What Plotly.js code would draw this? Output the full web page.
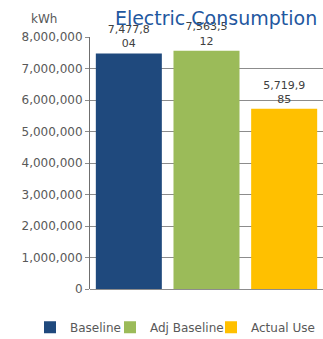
<!DOCTYPE html>
<html><head><meta charset="utf-8">
<script src="https://cdn.plot.ly/plotly-3.0.1.min.js"></script>
<style>body{margin:0;padding:0;background:#fff}#chart{width:323px;height:339px}</style>
</head><body><div id="chart"></div>
<script>
const categories = ["Baseline", "Adj Baseline", "Actual Use"];
const values = [7477804, 7563512, 5719985];
const colors = ["#1F497D", "#9BBB59", "#FFC000"];
const yTickVals = [0,1000000,2000000,3000000,4000000,5000000,6000000,7000000,8000000];
const yTickText = ["0","1,000,000","2,000,000","3,000,000","4,000,000","5,000,000","6,000,000","7,000,000","8,000,000"];

function wrapLabel(v){
  const s = v.toLocaleString("en-US");
  return s.length > 7 ? s.slice(0,7) + "<br>" + s.slice(7) : s;
}

const font = "'DejaVu Sans', sans-serif";
const legendIds = ["legend", "legend2", "legend3"];
const legendX = [30, 110, 211];
const traces = categories.map((c,i)=>({
  type: "bar",
  name: c,
  x: [c],
  y: [values[i]],
  marker: {color: colors[i]},
  text: [wrapLabel(values[i])],
  textposition: "outside",
  cliponaxis: false,
  textfont: {family: font, size: 11, color: "#404040"},
  hoverinfo: "none",
  legend: legendIds[i]
}));

const legendBase = {orientation: "h", xref: "container", yref: "container", xanchor: "left", yanchor: "middle", y: 0.035, font: {family: font, size: 12, color: "#595959"}, bgcolor: "rgba(0,0,0,0)"};

const layout = {
  width: 323, height: 339,
  margin: {l: 90, r: 0, t: 37, b: 50},
  paper_bgcolor: "#fff", plot_bgcolor: "#fff",
  barmode: "overlay",
  bargap: 0.15,
  font: {family: font, color: "#595959", size: 12},
  title: {text: "Electric Consumption", font: {family: font, size: 19, color: "#1F58A0"}, x: 0.541, xref: "paper", xanchor: "center", y: 0.947, yanchor: "middle"},
  xaxis: {type: "category", categoryorder: "array", categoryarray: categories, showticklabels: false, showline: false, showgrid: false, zeroline: false, range: [-0.5, 2.5], fixedrange: true},
  yaxis: {range: [0, 8000000], tickvals: yTickVals, ticktext: yTickText, showgrid: true, gridcolor: "#8C8C8C", gridwidth: 1, zeroline: true, zerolinecolor: "#8C8C8C", showline: true, linecolor: "#6F6F6F", linewidth: 1, ticks: "outside", ticklen: 4, tickcolor: "#8C8C8C", tickfont: {family: font, size: 12, color: "#595959"}, fixedrange: true},
  showlegend: true,
  legend: Object.assign({}, legendBase, {x: legendX[0]/323}),
  legend2: Object.assign({}, legendBase, {x: legendX[1]/323}),
  legend3: Object.assign({}, legendBase, {x: legendX[2]/323}),
  annotations: [{text: "kWh", xref: "paper", yref: "paper", x: -0.197, y: 1.071, xanchor: "center", yanchor: "middle", showarrow: false, font: {family: font, size: 12, color: "#595959"}}]
};

Plotly.newPlot("chart", traces, layout, {displayModeBar: false, staticPlot: true});
</script></body></html>
